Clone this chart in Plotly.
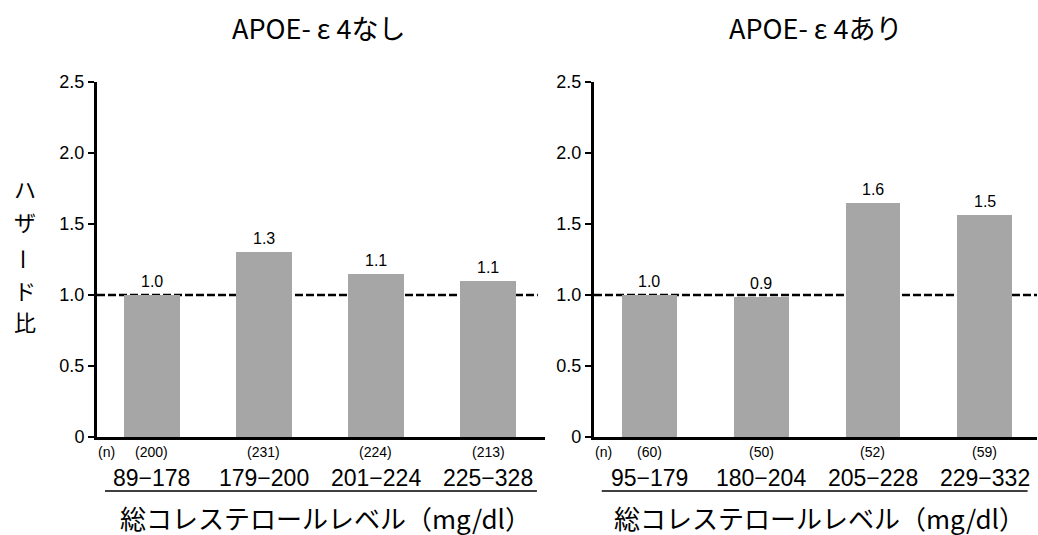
import plotly.graph_objects as go

# ---- data ----
left_title = "APOE- ε 4なし"
right_title = "APOE- ε 4あり"
left_ranges = ["89−178", "179−200", "201−224", "225−328"]
right_ranges = ["95−179", "180−204", "205−228", "229−332"]
left_n = ["(200)", "(231)", "(224)", "(213)"]
right_n = ["(60)", "(50)", "(52)", "(59)"]
left_values = [1.0, 1.30, 1.145, 1.10]
right_values = [1.0, 0.985, 1.65, 1.56]
left_labels = ["1.0", "1.3", "1.1", "1.1"]
right_labels = ["1.0", "0.9", "1.6", "1.5"]
y_ticks = [0, 0.5, 1.0, 1.5, 2.0, 2.5]
y_ticktext = ["0", "0.5", "1.0", "1.5", "2.0", "2.5"]
reference_line = 1.0
y_title_chars = ["ハ", "ザ", "ー", "ド", "比"]
x_title = "総コレステロールレベル（mg/dl）"

JP = "Noto Sans CJK JP"
NUM = "Liberation Sans, Noto Sans CJK JP"
BAR = "#a6a6a6"

fig = go.Figure()
xs = list(range(4))
fig.add_trace(go.Bar(x=xs, y=left_values, width=0.5, marker=dict(color=BAR, line=dict(width=0)),
                     xaxis="x", yaxis="y", showlegend=False))
fig.add_trace(go.Bar(x=xs, y=right_values, width=0.49, marker=dict(color=BAR, line=dict(width=0)),
                     xaxis="x2", yaxis="y2", showlegend=False))

yax = dict(range=[0, 2.5], tickvals=y_ticks, ticktext=y_ticktext, showline=True, linecolor="black",
           linewidth=3, ticks="outside", ticklen=6, tickwidth=2, tickcolor="black", showgrid=False,
           zeroline=False, tickfont=dict(family=NUM, size=18, color="black"))
xax = dict(showline=True, linecolor="black", linewidth=3, showticklabels=False, ticks="",
           showgrid=False, zeroline=False)

fig.update_layout(
    width=1038, height=535,
    margin=dict(l=97, r=1, t=82, b=98),
    paper_bgcolor="white", plot_bgcolor="white",
    xaxis=dict(domain=[0, 0.4766], range=[-0.491, 3.509], **xax),
    xaxis2=dict(domain=[0.5287, 1.0], range=[-0.497, 3.47], anchor="y2", **xax),
    yaxis=dict(anchor="x", **yax),
    yaxis2=dict(anchor="x2", **yax),
    bargap=0,
)

# reference dashed lines
for xr, yr, x1 in [("x domain", "y", 0.984), ("x2 domain", "y2", 1.0)]:
    fig.add_shape(type="line", xref=xr, yref=yr, x0=0, x1=x1, y0=reference_line, y1=reference_line,
                  line=dict(color="black", width=2.5, dash="8px,3px"), layer="below")

ann = []
def panel(xref, yref, values, labels, ns, ranges):
    for i in range(4):
        ann.append(dict(x=i, y=values[i], xref=xref, yref=yref, text=labels[i], showarrow=False,
                        xanchor="center", yanchor="bottom", yshift=3,
                        font=dict(family=NUM, size=16, color="black")))
        ann.append(dict(x=i, y=-0.0423, xref=xref, yref="paper", text=ns[i], showarrow=False,
                        xanchor="center", yanchor="middle", font=dict(family=NUM, size=14, color="black")))
        ann.append(dict(x=i, y=-0.1155, xref=xref, yref="paper", text=ranges[i], showarrow=False,
                        xanchor="center", yanchor="middle", font=dict(family=NUM, size=23, color="black")))
    ann.append(dict(x=0, y=-0.0423, xref=xref + " domain", yref="paper", text="(n)", showarrow=False,
                    xanchor="left", yanchor="middle", xshift=-1, font=dict(family=NUM, size=14, color="black")))

panel("x", "y", left_values, left_labels, left_n, left_ranges)
panel("x2", "y2", right_values, right_labels, right_n, right_ranges)

# titles
for xp, t in [(0.236, left_title), (0.764, right_title)]:
    ann.append(dict(x=xp, y=1.1535, xref="paper", yref="paper", text=t, showarrow=False,
                    xanchor="center", yanchor="middle", font=dict(family=JP, size=27, color="black")))
# x titles
for xp in [0.2426, 0.7691]:
    ann.append(dict(x=xp, y=-0.228, xref="paper", yref="paper", text=x_title, showarrow=False,
                    xanchor="center", yanchor="middle", font=dict(family=JP, size=26, color="black")))
# vertical y title
ypos = [0.701, 0.608, 0.501, 0.414, 0.327]
for ch, yp in zip(y_title_chars, ypos):
    ann.append(dict(x=-0.0766, y=yp, xref="paper", yref="paper", text=ch, showarrow=False,
                    textangle=90 if ch == "ー" else 0, xanchor="center", yanchor="middle",
                    font=dict(family=JP, size=22, color="black")))
fig.update_layout(annotations=ann)

# underlines beneath range labels
for x0, x1 in [(0.0085, 0.468), (0.537, 0.990)]:
    fig.add_shape(type="line", xref="paper", yref="paper", x0=x0, x1=x1, y0=-0.152, y1=-0.152,
                  line=dict(color="black", width=1.5))

fig.write_html("out.html")
